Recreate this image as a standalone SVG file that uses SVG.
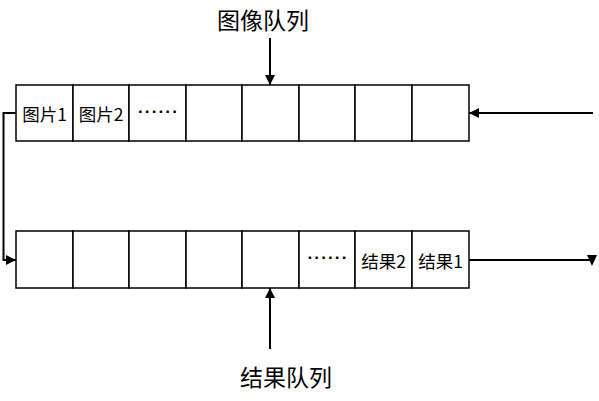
<svg xmlns="http://www.w3.org/2000/svg" width="599" height="401" viewBox="0 0 599 401">
<style>
.cell{fill:#fff;stroke:#000;stroke-width:1.5}
.t{font-family:"Noto Sans CJK SC","Liberation Sans",sans-serif;font-size:17.5px;fill:#000;text-anchor:middle;dominant-baseline:central}
.dots{font-family:"Liberation Sans",sans-serif;font-size:17px;font-weight:bold;letter-spacing:1.2px;fill:#000;text-anchor:middle}
.title{font-family:"Noto Sans CJK SC","Liberation Sans",sans-serif;font-size:23px;fill:#000;text-anchor:middle;dominant-baseline:central}
.ln{fill:none;stroke:#000;stroke-width:2}
</style>
<defs>
<marker id="ah" viewBox="0 0 10 10" refX="10" refY="5" markerWidth="5" markerHeight="5" orient="auto" markerUnits="strokeWidth">
<path d="M0,0 L10,5 L0,10 Z" fill="#000"/>
</marker>
</defs>
<rect width="599" height="401" fill="#fff"/>
<g id="image-queue">
<rect class="cell" x="16" y="85" width="57" height="56"/>
<rect class="cell" x="73" y="85" width="56" height="56"/>
<rect class="cell" x="129" y="85" width="57" height="56"/>
<rect class="cell" x="186" y="85" width="56" height="56"/>
<rect class="cell" x="242" y="85" width="57" height="56"/>
<rect class="cell" x="299" y="85" width="56" height="56"/>
<rect class="cell" x="355" y="85" width="57" height="56"/>
<rect class="cell" x="412" y="85" width="57" height="56"/>
<text class="t" x="44.5" y="113">图片1</text>
<text class="t" x="101" y="113">图片2</text>
<text class="dots" x="158.5" y="117">······</text>
</g>
<g id="result-queue">
<rect class="cell" x="16" y="231" width="57" height="57"/>
<rect class="cell" x="73" y="231" width="56" height="57"/>
<rect class="cell" x="129" y="231" width="57" height="57"/>
<rect class="cell" x="186" y="231" width="56" height="57"/>
<rect class="cell" x="242" y="231" width="57" height="57"/>
<rect class="cell" x="299" y="231" width="56" height="57"/>
<rect class="cell" x="355" y="231" width="57" height="57"/>
<rect class="cell" x="412" y="231" width="57" height="57"/>
<text class="dots" x="328" y="263">······</text>
<text class="t" x="383.5" y="260">结果2</text>
<text class="t" x="440.5" y="260">结果1</text>
</g>
<g id="label-image-queue"><text class="title" x="263" y="19">图像队列</text></g>
<g id="label-result-queue"><text class="title" x="286" y="376">结果队列</text></g>
<g id="connectors">
<path class="ln" d="M270,38 L270,85" marker-end="url(#ah)"/>
<path class="ln" d="M270,349 L270,288" marker-end="url(#ah)"/>
<path class="ln" d="M593,113 L469,113" marker-end="url(#ah)"/>
<path class="ln" d="M16,113 L3.5,113 L3.5,260 L16,260" marker-end="url(#ah)"/>
<path class="ln" d="M469,260 L590,260"/>
<path d="M587,255 L597,255 L592,266 Z" fill="#000"/>
</g>
</svg>
